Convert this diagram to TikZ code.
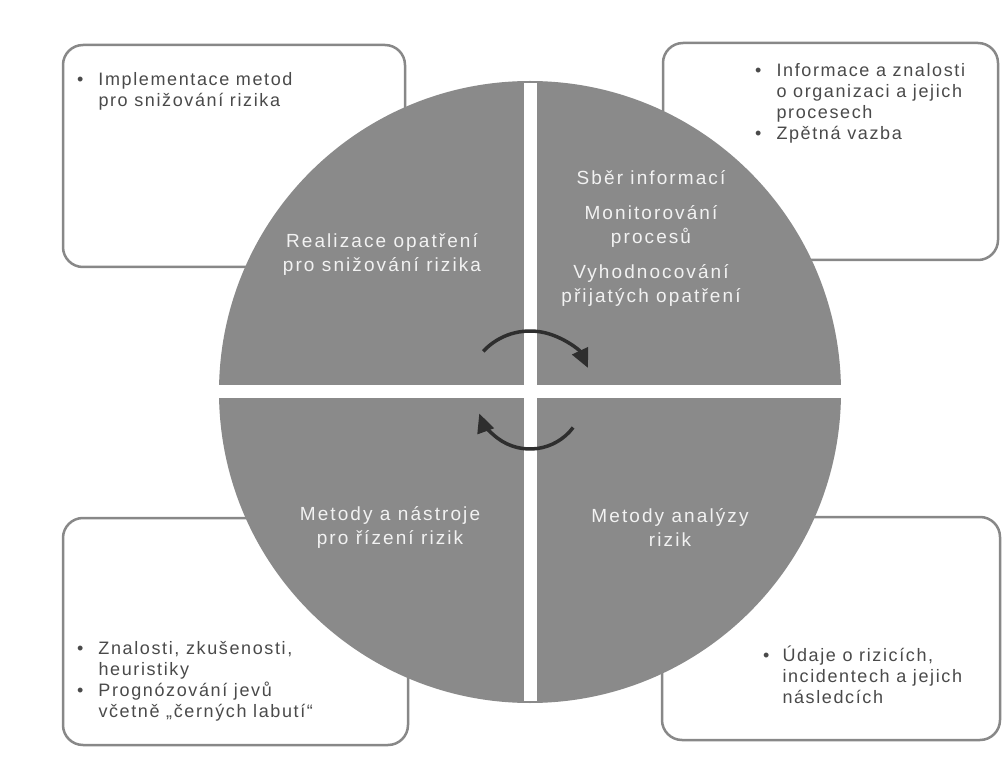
\documentclass[tikz,border=0pt]{standalone}
\usepackage{fontspec}
\setmainfont{Liberation Sans}
\newfontfamily\circfont[LetterSpace=11]{Liberation Sans}
\newfontfamily\boxfont[LetterSpace=9]{Liberation Sans}
\usetikzlibrary{arrows.meta}
\definecolor{disk}{HTML}{8A8A8A}
\definecolor{frame}{HTML}{888888}
\definecolor{boxtext}{HTML}{4A4A4A}
\definecolor{arrowc}{HTML}{2E2E2E}
\definecolor{circtext}{HTML}{F2F2F2}
\newcommand{\blt}{\textbullet}
\begin{document}
\begin{tikzpicture}[x=1pt,y=-1pt,
  infobox/.style={draw=frame, line width=2.5pt, fill=white, rounded corners=20pt, inner sep=0pt},
  boxlabel/.style={anchor=base west, inner sep=0pt, text=boxtext, font=\boxfont\fontsize{18}{21}\selectfont, align=left},
  quadlabel/.style={text=circtext, font=\circfont\fontsize{19}{24}\selectfont, align=center, inner sep=0pt},
  cyclearrow/.style={draw=arrowc, line width=3.5pt, -{Triangle[length=19pt,width=17pt]}},
  gapline/.style={draw=white, line width=13pt}]
\useasboundingbox[fill=white] (0,0) rectangle (1002,767);

% side boxes
\node[infobox, minimum width=342pt, minimum height=222pt] (tlbox) at (234,156) {};
\node[infobox, minimum width=335pt, minimum height=217pt] (trbox) at (830.5,151.5) {};
\node[infobox, minimum width=345pt, minimum height=227pt] (blbox) at (235.5,631.5) {};
\node[infobox, minimum width=338pt, minimum height=223pt] (brbox) at (831,628.5) {};

% disk
\node[circle, fill=disk, minimum size=622pt, inner sep=0pt] (disk) at (530,392) {};
\draw[gapline] ([yshift=-2pt]disk.north) -- ([yshift=2pt]disk.south);
\draw[gapline] ([xshift=-2pt]disk.west) -- ([xshift=2pt]disk.east);
\coordinate (hub) at (530,395);

% quadrant labels
\node[quadlabel] (qtl) at (382,254) {Realizace opatření\\pro snižování rizika};
\node[quadlabel] (qtr) at (651,238) {Sběr informací\\[11pt]Monitorování\\procesů\\[11pt]Vyhodnocování\\přijatých opatření};
\node[quadlabel] (qbl) at (390,527) {Metody a nástroje\\pro řízení rizik};
\node[quadlabel] (qbr) at (670,528) {Metody analýzy\\rizik};

% box texts
\node[boxlabel] (ttl) at (77,85.5) {\begin{tabular}[t]{@{}l@{\hspace{15pt}}l@{}}\blt & Implementace metod\\ & pro snižování rizika\end{tabular}};
\node[boxlabel] (ttr) at (755,76.5) {\begin{tabular}[t]{@{}l@{\hspace{15pt}}l@{}}\blt & Informace a znalosti\\ & o organizaci a jejich\\ & procesech\\ \blt & Zpětná vazba\end{tabular}};
\node[boxlabel] (tbl) at (77,654.5) {\begin{tabular}[t]{@{}l@{\hspace{15pt}}l@{}}\blt & Znalosti, zkušenosti,\\ & heuristiky\\ \blt & Prognózování jevů\\ & včetně „černých labutí“\end{tabular}};
\node[boxlabel] (tbr) at (763,661.5) {\begin{tabular}[t]{@{}l@{\hspace{13pt}}l@{}}\blt & Údaje o rizicích,\\ & incidentech a jejich\\ & následcích\end{tabular}};

% cycle arrows
\draw[cyclearrow] (hub) ++(-137:64) arc[start angle=-137, end angle=-25, radius=64];
\draw[cyclearrow] (hub) ++(37:54) arc[start angle=37, end angle=160, radius=54];
\end{tikzpicture}
\end{document}
